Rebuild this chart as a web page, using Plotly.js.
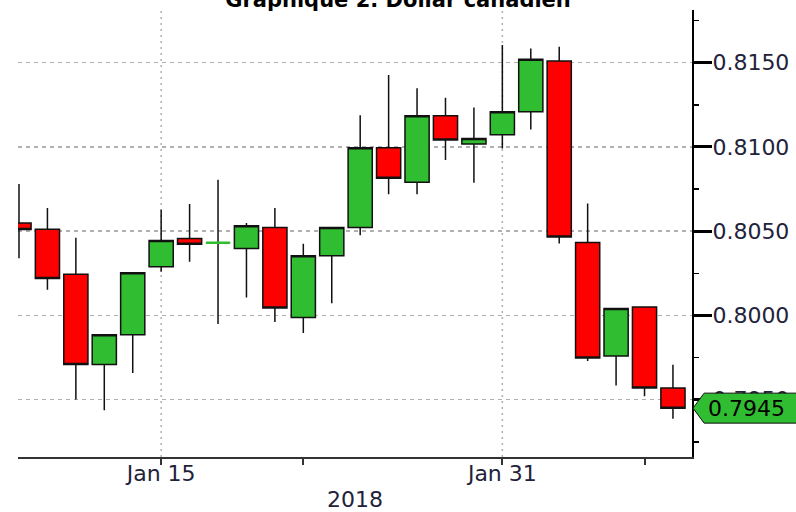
<!DOCTYPE html>
<html>
<head>
<meta charset="utf-8">
<script src="https://cdn.plot.ly/plotly-3.0.1.min.js"></script>
<style>
  html, body { margin: 0; padding: 0; background: #ffffff; }
  #chart { width: 796px; height: 512px; }
</style>
</head>
<body>
<div id="chart"></div>
<script>
// ---- Data (USD per CAD, daily candles, business days) ----
const dates = ['2018-01-08','2018-01-09','2018-01-10','2018-01-11','2018-01-12',
               '2018-01-15','2018-01-16','2018-01-17','2018-01-18','2018-01-19',
               '2018-01-22','2018-01-23','2018-01-24','2018-01-25','2018-01-26',
               '2018-01-29','2018-01-30','2018-01-31','2018-02-01','2018-02-02',
               '2018-02-05','2018-02-06','2018-02-07','2018-02-08'];
const openV  = [0.80549,0.80512,0.80244,0.79709,0.79886,
                0.80289,0.80457,0.80431,0.80398,0.80522,
                0.79988,0.80354,0.80522,0.80995,0.80791,
                0.81185,0.81017,0.81072,0.81209,0.81510,
                0.80433,0.79759,0.80050,0.79569];
const highV  = [0.80781,0.80638,0.80461,0.79886,0.80254,
                0.80628,0.80661,0.80805,0.80549,0.80638,
                0.80425,0.80522,0.81189,0.81427,0.81348,
                0.81292,0.81235,0.81605,0.81585,0.81595,
                0.80664,0.80041,0.80050,0.79708];
const lowV   = [0.80339,0.80152,0.79502,0.79437,0.79659,
                0.80260,0.80319,0.79949,0.80106,0.79961,
                0.79896,0.80073,0.80476,0.80720,0.80720,
                0.80922,0.80787,0.80991,0.81104,0.80427,
                0.79730,0.79585,0.79520,0.79387];
const closeV = [0.80510,0.80220,0.79709,0.79886,0.80254,
                0.80445,0.80423,0.80431,0.80533,0.80045,
                0.80354,0.80522,0.80995,0.80815,0.81185,
                0.81041,0.81050,0.81209,0.81520,0.80466,
                0.79748,0.80041,0.79569,0.79450];

const xTickVals  = ['2018-01-15','2018-01-22','2018-01-31','2018-02-07'];
const xTickText  = ['Jan 15','','Jan 31',''];
const xGridDates = ['2018-01-15','2018-01-31'];
const yTickVals  = [0.795,0.800,0.805,0.810,0.815];
const yTickText  = yTickVals.map(v => v.toFixed(4));
const titleText  = 'Graphique 2. Dollar canadien';
const xTitleText = '2018';

// ---- Styling ----
const GREEN = '#31bd31';
const RED = '#ff0000';
const EDGE = '#111111';
const TEXT = '#22223a';
const FONT = 'DejaVu Sans, Verdana, sans-serif';
const yRange = [0.79160, 0.81813];
const xRange = [-0.035, 23.67];

const mainTrace = {
  type: 'candlestick',
  x: dates, open: openV, high: highV, low: lowV, close: closeV,
  increasing: { fillcolor: GREEN, line: { color: EDGE, width: 1.5 } },
  decreasing: { fillcolor: RED,   line: { color: EDGE, width: 1.5 } },
  whiskerwidth: 0,
  hoverinfo: 'skip',
  showlegend: false
};

// Doji candles (open == close) are drawn by the source as a coloured bar
const dojiIdx = dates.map((d, i) => i).filter(i => openV[i] === closeV[i]);
const dojiTrace = {
  type: 'candlestick',
  x: dojiIdx.map(i => dates[i]),
  open: dojiIdx.map(i => openV[i]),
  high: dojiIdx.map(i => openV[i]),
  low: dojiIdx.map(i => closeV[i]),
  close: dojiIdx.map(i => closeV[i]),
  increasing: { fillcolor: GREEN, line: { color: GREEN, width: 2.5 } },
  decreasing: { fillcolor: GREEN, line: { color: GREEN, width: 2.5 } },
  whiskerwidth: 0,
  hoverinfo: 'skip',
  showlegend: false
};

// last-price tag
const lastClose = closeV[closeV.length - 1];
const yp = (lastClose - yRange[0]) / (yRange[1] - yRange[0]);
const hh = 15 / 447;
const tagPath = `M 1.0015 ${yp} L 1.018 ${yp + hh} L 1.2 ${yp + hh} L 1.2 ${yp - hh} L 1.018 ${yp - hh} Z`;

const shapes = xGridDates.map(d => ({
  type: 'line', xref: 'x', yref: 'paper',
  x0: dates.indexOf(d), x1: dates.indexOf(d), y0: 0, y1: 1,
  line: { color: '#b0b0b0', width: 1.5, dash: '2px,4px' },
  layer: 'below'
}));
shapes.push({
  type: 'path', xref: 'paper', yref: 'paper', path: tagPath,
  fillcolor: GREEN, line: { color: EDGE, width: 1 }, layer: 'above'
});

const layout = {
  width: 796, height: 512,
  margin: { l: 18, r: 104, t: 10, b: 55, pad: 0 },
  paper_bgcolor: '#ffffff', plot_bgcolor: '#ffffff',
  font: { family: FONT, size: 22, color: TEXT },
  boxgap: 0.15,
  boxgroupgap: 0,
  title: {
    text: titleText,
    font: { family: FONT, size: 21, color: '#000000', weight: 700 },
    x: 0.5, xref: 'container', xanchor: 'center',
    y: 1, yref: 'container', yanchor: 'middle'
  },
  xaxis: {
    type: 'category',
    range: xRange,
    rangeslider: { visible: false },
    tickmode: 'array', tickvals: xTickVals, ticktext: xTickText,
    ticks: 'outside', ticklen: 6, tickwidth: 2, tickcolor: '#333333',
    ticklabelstandoff: -10,
    showgrid: false, zeroline: false,
    showline: true, linecolor: '#333333', linewidth: 2,
    tickfont: { family: FONT, size: 22, color: TEXT },
    title: { text: xTitleText, standoff: 18, font: { family: FONT, size: 22, color: TEXT } },
    automargin: false, fixedrange: true
  },
  yaxis: {
    side: 'right',
    range: yRange,
    tickmode: 'array', tickvals: yTickVals, ticktext: yTickText,
    ticks: 'outside', ticklen: 18, tickwidth: 3, tickcolor: '#000000',
    ticklabelstandoff: -4,
    minor: { tickmode: 'linear', tick0: 0.7925, dtick: 0.0025, ticks: 'outside',
             ticklen: 5, tickwidth: 1.5, tickcolor: '#000000', showgrid: false },
    showgrid: true, gridcolor: '#b0b0b0', gridwidth: 1.5, griddash: '4px,4px',
    zeroline: false,
    showline: true, linecolor: '#000000', linewidth: 2,
    tickfont: { family: FONT, size: 22, color: TEXT },
    automargin: false, fixedrange: true
  },
  shapes: shapes,
  annotations: [{
    xref: 'paper', yref: 'y', x: 1.0208, y: lastClose,
    xanchor: 'left', yanchor: 'middle', showarrow: false,
    text: lastClose.toFixed(4),
    font: { family: FONT, size: 22, color: '#000000' }
  }],
  showlegend: false
};

Plotly.newPlot('chart', [mainTrace, dojiTrace], layout, { displayModeBar: false, staticPlot: true });
</script>
</body>
</html>
